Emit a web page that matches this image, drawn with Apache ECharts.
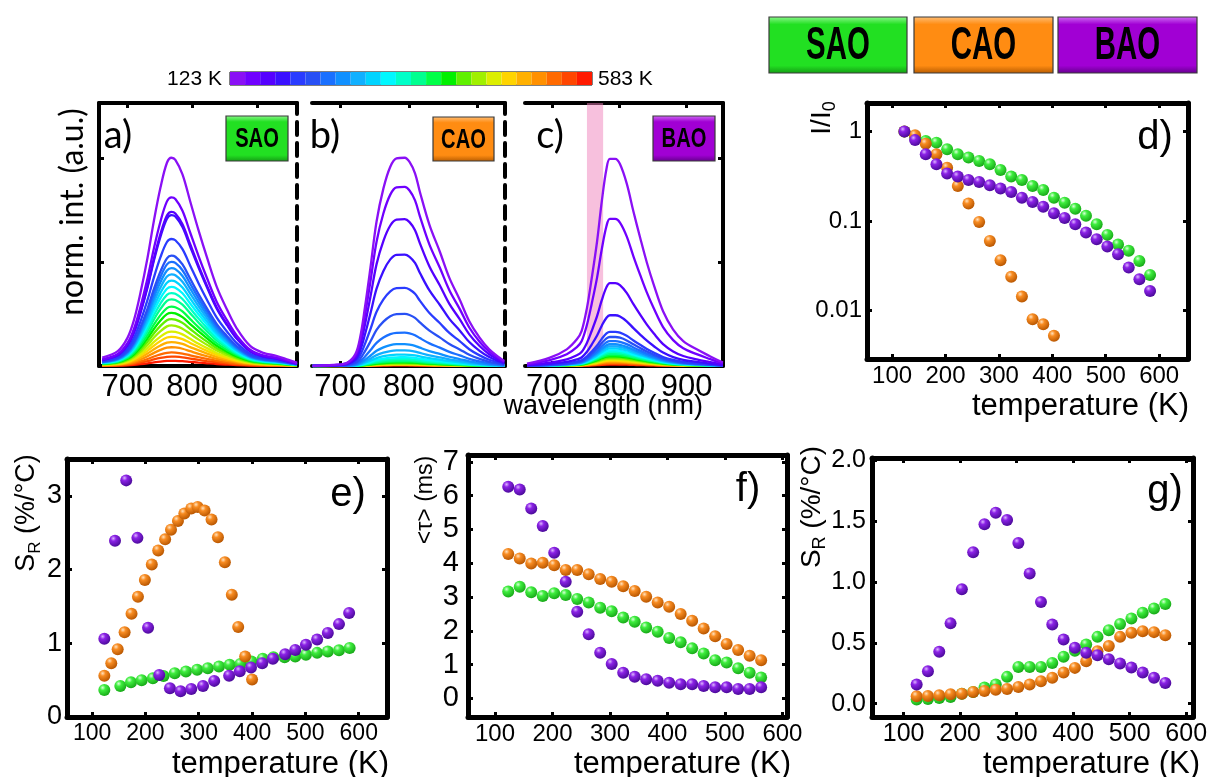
<!DOCTYPE html>
<html>
<head>
<meta charset="utf-8">
<script src="https://cdn.jsdelivr.net/npm/echarts@6/dist/echarts.min.js"></script>
<style>
  html, body { margin: 0; padding: 0; background: #fff; }
  #chart { width: 1215px; height: 777px; }
</style>
</head>
<body>
<div id="chart"></div>
<script>
// ---------- spectra (panels a-c) ----------
const temperatures = [123,143,163,183,203,223,243,263,283,303,323,343,363,383,403,423,443,463,483,503,523,543,563,583];
const rainbow = ['#8a10f5','#7000ff','#5500ff','#3a10ff','#2a3cff','#2850f5','#1a70ff','#1090ff','#10b0ff','#00d4ff',
                 '#00f8ff','#00ffc8','#00ff90','#00ff48','#00f000','#60f000','#a0f000','#dcee00','#ffd400','#ffb000',
                 '#ff9000','#ff6a00','#ff4600','#ff1a00'];

// SAO emission band (normalised profile of the 123 K spectrum) and peak heights per temperature
const wavelengthA = [661,685,700,710,720,731,741,751,761,768,774,785,797,810,823,838,854,869,890,910,931,949,962];
const profileA    = [0.04,0.071,0.135,0.22,0.35,0.52,0.70,0.857,0.976,1.0,0.99,0.92,0.79,0.65,0.52,0.38,0.27,0.18,0.095,0.063,0.048,0.029,0.016];
const peakA       = [1.0,0.81,0.74,0.725,0.61,0.53,0.50,0.47,0.44,0.41,0.38,0.35,0.32,0.285,0.255,0.225,0.195,0.165,0.14,0.115,0.09,0.065,0.045,0.025];

// CAO emission band
const wavelengthB = [660,690,710,722,729,736,744,753,763,773,782,794,801,809,816,830,845,859,874,888,903,917,932,939];
const profileB    = [0,0.005,0.016,0.056,0.136,0.28,0.47,0.694,0.853,0.957,0.997,1.0,0.98,0.925,0.837,0.678,0.55,0.423,0.319,0.215,0.136,0.08,0.04,0.024];
const peakB       = [1.0,0.86,0.705,0.535,0.375,0.25,0.16,0.105,0.075,0.055,0.042,0.033,0.026,0.021,0.017,0.014,0.012,0.01,0.008,0.007,0.006,0.005,0.004,0.003];

// BAO emission band
const wavelengthC = [663,697,722,737,744,752,759,767,774,781,786,794,801,811,821,831,841,851,865,880,895,915,934,949,954];
const profileC    = [0.011,0.04,0.08,0.128,0.167,0.279,0.42,0.598,0.79,0.947,0.995,0.995,0.97,0.877,0.742,0.616,0.496,0.392,0.263,0.175,0.12,0.08,0.048,0.024,0.018];
const peakC       = [1.0,0.71,0.40,0.245,0.165,0.14,0.12,0.105,0.095,0.085,0.075,0.068,0.06,0.053,0.047,0.041,0.036,0.031,0.026,0.022,0.018,0.014,0.01,0.007];
const bandC       = [752, 776];

// ---------- d) integrated intensity I/I0 ----------
const tempD = temperatures;
const saoD = [1.0,0.86,0.78,0.75,0.632,0.556,0.51,0.468,0.43,0.371,0.313,0.287,0.246,0.222,0.182,0.16,0.137,0.114,0.0918,0.0698,0.0544,0.0463,0.0357,0.0249];
const caoD = [1.0,0.905,0.73,0.556,0.394,0.246,0.157,0.0975,0.0598,0.0364,0.0237,0.0143,0.00796,0.007,0.00519];
const baoD = [1.0,0.80,0.556,0.43,0.338,0.313,0.287,0.273,0.25,0.23,0.211,0.182,0.163,0.144,0.122,0.108,0.0918,0.074,0.0624,0.0517,0.0425,0.0301,0.0223,0.0165];

// ---------- e) relative sensitivity S_R ----------
const saoE_T = [123,153,173,193,214,234,255,276,297,317,338,358,378,399,420,440,461,481,501,522,542,563,583];
const saoE   = [0.365,0.42,0.47,0.50,0.525,0.557,0.594,0.616,0.64,0.662,0.685,0.708,0.72,0.753,0.79,0.81,0.81,0.82,0.845,0.87,0.89,0.904,0.936];
const caoE_T = [123,136,148,161,174,186,199,212,224,237,248,261,273,286,298,311,324,336,349,362,374,387,400];
const caoE   = [0.56,0.73,0.92,1.15,1.40,1.63,1.86,2.07,2.26,2.41,2.54,2.66,2.76,2.83,2.85,2.80,2.68,2.44,2.10,1.66,1.22,0.82,0.51];
const baoE_T = [123,143,164,185,205,226,246,266,286,308,329,357,377,398,419,439,462,481,501,522,542,563,582];
const baoE   = [1.06,2.39,3.21,2.43,1.21,0.57,0.39,0.35,0.38,0.42,0.49,0.56,0.62,0.67,0.73,0.79,0.85,0.91,0.98,1.05,1.14,1.26,1.41];

// ---------- f) average lifetime <tau> ----------
const tempF = [123,143,163,183,203,223,243,263,283,303,323,343,363,383,403,423,443,463,483,503,523,543,563];
const baoF = [6.26,6.18,5.62,5.10,4.31,3.45,2.56,1.90,1.35,1.02,0.76,0.64,0.57,0.52,0.46,0.42,0.42,0.37,0.33,0.33,0.28,0.28,0.33];
const caoF = [4.27,4.14,3.99,4.01,3.94,3.80,3.80,3.67,3.53,3.45,3.32,3.18,3.01,2.84,2.71,2.50,2.30,2.07,1.84,1.61,1.43,1.26,1.13];
const saoF = [3.16,3.30,3.14,3.03,3.11,3.06,2.94,2.84,2.68,2.58,2.39,2.27,2.10,1.97,1.79,1.66,1.48,1.33,1.13,1.06,0.89,0.76,0.62];

// ---------- g) lifetime-based S_R ----------
const tempG = tempF;
const baoG = [0.157,0.266,0.426,0.66,0.94,1.245,1.475,1.57,1.51,1.32,1.07,0.835,0.65,0.527,0.459,0.418,0.398,0.365,0.33,0.297,0.255,0.212,0.17];
const caoG = [0.06,0.063,0.069,0.077,0.082,0.096,0.104,0.115,0.121,0.137,0.157,0.184,0.212,0.255,0.294,0.349,0.431,0.473,0.549,0.582,0.596,0.588,0.563];
const saoG = [0.033,0.038,0.047,0.055,0.082,0.096,0.132,0.157,0.22,0.302,0.302,0.302,0.335,0.385,0.434,0.486,0.549,0.604,0.654,0.70,0.747,0.783,0.819];

// tick positions
const wlTicks = [700, 800, 900];
const tempTicks = [100, 200, 300, 400, 500, 600];
const ticksD = [0.01, 0.1, 1];
const ticksE = [0, 1, 2, 3];
const ticksF = [0, 1, 2, 3, 4, 5, 6, 7];
const ticksG = [0, 0.5, 1.0, 1.5, 2.0];
const spectraTicks = [0.5, 1.0];

// ---------- styling ----------
const TEXT_FONT = "'Liberation Sans', Arial, Helvetica, sans-serif";
const CAL_FONT = "Lato, 'Open Sans', sans-serif";
const matStyle = {
  SAO: { base: '#3fee3f', hi: '#d9ffd9', dark: '#17a817', btn: ['#8ff78f', '#22e022', '#149a14'] },
  CAO: { base: '#f88c22', hi: '#ffe2bf', dark: '#b85600', btn: ['#ffc07a', '#ff8c12', '#b55a00'] },
  BAO: { base: '#8b22e6', hi: '#dcb4ff', dark: '#4a0a99', btn: ['#d070f5', '#a100d4', '#62008a'] }
};

const grids = [], xAxes = [], yAxes = [], series = [], graphics = [];

function axis(gi, pos, r, ticks, line, label, lw) {
  const a = {
    type: r.log ? 'log' : 'value',
    gridIndex: gi, position: pos, min: r.min, max: r.max,
    axisLine: { show: line !== 'none', onZero: false,
      lineStyle: { color: '#000', width: lw, type: line === 'dashed' ? [13, 8] : 'solid' } },
    axisTick: { show: !!ticks, inside: true, length: 5, customValues: ticks || [],
      lineStyle: { color: '#000', width: 3 } },
    axisLabel: label ? Object.assign({ show: true, customValues: ticks, color: '#000',
      fontFamily: TEXT_FONT }, label) : { show: false },
    splitLine: { show: false }, silent: true
  };
  if (r.log) a.logBase = 10;
  return a;
}

// One framed panel: grid + bottom/top x axes + left/right y axes
function panel(p) {
  const gi = grids.length;
  grids.push({ left: p.box[0], top: p.box[1], width: p.box[2], height: p.box[3],
               containLabel: false, outerBoundsMode: 'none' });
  const xi = xAxes.length, yi = yAxes.length;
  xAxes.push(axis(gi, 'bottom', p.x, p.xTicks, 'solid', p.xLabel, p.lw));
  xAxes.push(axis(gi, 'top', p.x, p.xTicks, 'solid', null, p.lw));
  yAxes.push(axis(gi, 'left', p.y, p.yTicksLeft, p.leftLine, p.yLabel, p.lw));
  yAxes.push(axis(gi, 'right', p.y, p.yTicksRight, p.rightLine, null, p.lw));
  return { xi, yi };
}

function addSpectra(ax, wl, profile, peaks) {
  for (let k = peaks.length - 1; k >= 0; k--) {
    series.push({
      type: 'line', xAxisIndex: ax.xi, yAxisIndex: ax.yi, smooth: 0.35, showSymbol: false,
      silent: true, clip: true, z: 2,
      lineStyle: { color: rainbow[k], width: 2.3 },
      data: wl.map((w, i) => [w, profile[i] * peaks[k]])
    });
  }
}

function sphere(m) {
  const s = matStyle[m];
  return { type: 'radial', x: 0.36, y: 0.3, r: 0.72,
    colorStops: [{ offset: 0, color: s.hi }, { offset: 0.32, color: s.base }, { offset: 1, color: s.dark }] };
}

function addDots(ax, m, xs, ys, z) {
  series.push({
    type: 'scatter', xAxisIndex: ax.xi, yAxisIndex: ax.yi, symbol: 'circle', symbolSize: 12,
    silent: true, z: z, itemStyle: { color: sphere(m), opacity: 1 },
    data: ys.map((v, i) => [xs[i], v])
  });
}

// ---------- panels a, b, c ----------
const specY = { min: 0, max: 1.263 };
const specLabel = { fontSize: 31, margin: 6 };
const axA = panel({ box: [99, 103, 198, 263], x: { min: 656, max: 962 }, y: specY, xTicks: wlTicks,
  yTicksLeft: spectraTicks, yTicksRight: null, leftLine: 'solid', rightLine: 'dashed', xLabel: specLabel, yLabel: null, lw: 4 });
const axB = panel({ box: [312, 103, 193, 263], x: { min: 659, max: 940 }, y: specY, xTicks: wlTicks,
  yTicksLeft: null, yTicksRight: null, leftLine: 'none', rightLine: 'dashed', xLabel: specLabel, yLabel: null, lw: 4 });
const axC = panel({ box: [525, 103, 198, 263], x: { min: 660, max: 954 }, y: specY, xTicks: wlTicks,
  yTicksLeft: null, yTicksRight: spectraTicks, leftLine: 'none', rightLine: 'solid', xLabel: specLabel, yLabel: null, lw: 4 });
addSpectra(axA, wavelengthA, profileA, peakA);
addSpectra(axB, wavelengthB, profileB, peakB);
addSpectra(axC, wavelengthC, profileC, peakC);
series.push({
  type: 'line', xAxisIndex: axC.xi, yAxisIndex: axC.yi, data: [], z: 6, silent: true,
  markArea: { silent: true, itemStyle: { color: 'rgba(240,130,188,0.5)' },
    data: [[{ xAxis: bandC[0] }, { xAxis: bandC[1] }]] }
});

// ---------- panel d ----------
const axD = panel({ box: [867, 103, 321, 256], x: { min: 53, max: 654 }, y: { min: 0.00286, max: 2.08, log: true },
  xTicks: tempTicks, yTicksLeft: ticksD, yTicksRight: ticksD, leftLine: 'solid', rightLine: 'solid',
  xLabel: { fontSize: 24, margin: 5 }, yLabel: { fontSize: 24, margin: 5, formatter: v => String(+(+v).toPrecision(3)) }, lw: 5 });
addDots(axD, 'SAO', tempD, saoD, 3);
addDots(axD, 'CAO', tempD, caoD, 4);
addDots(axD, 'BAO', tempD, baoD, 5);

// ---------- panel e ----------
const axE = panel({ box: [67, 459, 320, 258], x: { min: 53, max: 653 }, y: { min: 0, max: 3.5 },
  xTicks: tempTicks, yTicksLeft: ticksE, yTicksRight: ticksE, leftLine: 'solid', rightLine: 'solid',
  xLabel: { fontSize: 23, margin: 5 }, yLabel: { fontSize: 27, margin: 5 }, lw: 5 });
addDots(axE, 'SAO', saoE_T, saoE, 3);
addDots(axE, 'CAO', caoE_T, caoE, 4);
addDots(axE, 'BAO', baoE_T, baoE, 5);

// ---------- panel f ----------
const axF = panel({ box: [468, 455, 319, 262], x: { min: 53, max: 608 }, y: { min: -0.55, max: 7.2 },
  xTicks: tempTicks, yTicksLeft: ticksF, yTicksRight: ticksF, leftLine: 'solid', rightLine: 'solid',
  xLabel: { fontSize: 24, margin: 5 }, yLabel: { fontSize: 29, margin: 9 }, lw: 5 });
addDots(axF, 'SAO', tempF, saoF, 3);
addDots(axF, 'CAO', tempF, caoF, 4);
addDots(axF, 'BAO', tempF, baoF, 5);

// ---------- panel g ----------
const axG = panel({ box: [872, 458, 321, 259], x: { min: 44, max: 612 }, y: { min: -0.11, max: 2.02 },
  xTicks: tempTicks, yTicksLeft: ticksG, yTicksRight: ticksG, leftLine: 'solid', rightLine: 'solid',
  xLabel: { fontSize: 25, margin: 5 }, yLabel: { fontSize: 25, margin: 6, formatter: v => (+v).toFixed(1) }, lw: 5 });
addDots(axG, 'SAO', tempG, saoG, 3);
addDots(axG, 'CAO', tempG, caoG, 4);
addDots(axG, 'BAO', tempG, baoG, 5);

// ---------- temperature colour bar ----------
const cbGrid = grids.length;
grids.push({ left: 230, top: 72, width: 362, height: 13, show: true, borderColor: '#000', borderWidth: 1,
             containLabel: false, outerBoundsMode: 'none' });
const cbX = xAxes.length, cbY = yAxes.length;
xAxes.push({ type: 'category', gridIndex: cbGrid, data: temperatures.map(String), show: false, boundaryGap: true });
yAxes.push({ type: 'value', gridIndex: cbGrid, min: 0, max: 1, show: false });
series.push({ type: 'bar', xAxisIndex: cbX, yAxisIndex: cbY, barCategoryGap: '0%', silent: true, z: 1,
  data: temperatures.map((t, i) => ({ value: 1, itemStyle: { color: rainbow[i] } })) });

// ---------- texts ----------
function txt(x, y, text, font, opts) {
  graphics.push(Object.assign({ type: 'text', x, y, silent: true,
    style: Object.assign({ text, font, fill: '#000', align: 'center', verticalAlign: 'middle' }, (opts && opts.style) || {}) },
    opts ? { rotation: opts.rotation || 0 } : {}));
}
const R90 = Math.PI / 2;

txt(222, 79, temperatures[0] + ' K', `21px ${TEXT_FONT}`, { style: { align: 'right' } });
txt(598, 79, temperatures[temperatures.length - 1] + ' K', `21px ${TEXT_FONT}`, { style: { align: 'left' } });

// panel letters
txt(118, 136, 'a)', `38px ${CAL_FONT}`);
txt(325, 136, 'b)', `38px ${CAL_FONT}`);
txt(550, 136, 'c)', `38px ${CAL_FONT}`);
txt(1155, 138, 'd)', `40px ${TEXT_FONT}`);
txt(348, 495, 'e)', `40px ${TEXT_FONT}`);
txt(748, 490, 'f)', `40px ${TEXT_FONT}`);
txt(1165, 492, 'g)', `40px ${TEXT_FONT}`);

// axis titles
txt(73, 212, 'norm. int. (a.u.)', `32px ${CAL_FONT}`, { rotation: R90 });
txt(703, 407, 'wavelength (nm)', `27px ${TEXT_FONT}`, { style: { align: 'right' } });
txt(1189, 406, 'temperature (K)', `31px ${TEXT_FONT}`, { style: { align: 'right' } });
txt(389, 764, 'temperature (K)', `31px ${TEXT_FONT}`, { style: { align: 'right' } });
txt(791, 764, 'temperature (K)', `31px ${TEXT_FONT}`, { style: { align: 'right' } });
txt(1200, 764, 'temperature (K)', `31px ${TEXT_FONT}`, { style: { align: 'right' } });

function richTitle(x, y, text, size) {
  const rich = {
    m: { fontFamily: TEXT_FONT, fontSize: size, lineHeight: size + 6, verticalAlign: 'middle', fill: '#000' },
    s: { fontFamily: TEXT_FONT, fontSize: Math.round(size * 0.64), lineHeight: Math.round(size * 0.6), verticalAlign: 'bottom', fill: '#000' }
  };
  graphics.push({ type: 'text', x, y, rotation: R90, silent: true,
    style: { text, rich, align: 'center', verticalAlign: 'middle', fill: '#000' } });
}
richTitle(822, 118, '{m|I/I}{s|0}', 28);
richTitle(27, 513, '{m|S}{s|R}{m| (%/°C)}', 27);
richTitle(812, 507, '{m|S}{s|R}{m| (%/°C)}', 28);
richTitle(426, 500, '{m|<τ> (ms)}', 23);

// ---------- material buttons ----------
function button(x, y, w, h, m, size, sx) {
  const c = matStyle[m].btn;
  graphics.push({ type: 'rect', silent: true, shape: { x, y, width: w, height: h },
    style: { fill: { type: 'linear', x: 0, y: 0, x2: 0, y2: 1,
      colorStops: [{ offset: 0, color: c[0] }, { offset: 0.14, color: c[1] }, { offset: 0.86, color: c[1] }, { offset: 1, color: c[2] }] },
      stroke: '#3a3a3a', lineWidth: 1.2 } });
  graphics.push({ type: 'text', silent: true, x: x + w / 2, y: y + h / 2 + 1, scaleX: sx, scaleY: 1,
    style: { text: m, font: `bold ${size}px ${TEXT_FONT}`, fill: '#000', align: 'center', verticalAlign: 'middle' } });
}
button(769, 17, 138, 56, 'SAO', 46, 0.64);
button(914, 17, 139, 56, 'CAO', 46, 0.64);
button(1058, 17, 139, 56, 'BAO', 46, 0.64);
button(226, 116, 62, 45, 'SAO', 28, 0.72);
button(433, 117, 61, 44, 'CAO', 28, 0.72);
button(653, 116, 62, 45, 'BAO', 28, 0.72);

const chart = echarts.init(document.getElementById('chart'), null, { renderer: 'canvas' });
chart.setOption({
  backgroundColor: '#fff',
  animation: false,
  grid: grids,
  xAxis: xAxes,
  yAxis: yAxes,
  series: series,
  graphic: { elements: graphics }
});
</script>
</body>
</html>
